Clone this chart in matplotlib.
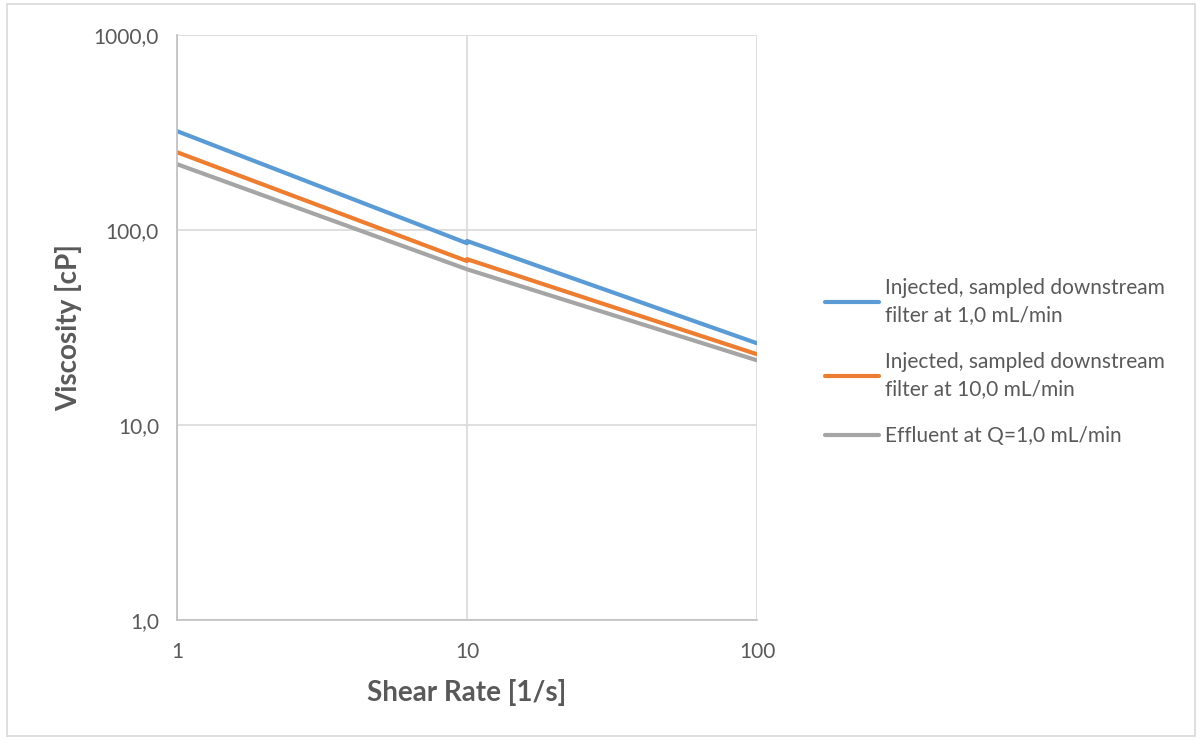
import matplotlib.pyplot as plt

plt.rcParams['font.family'] = ['Lato', 'DejaVu Sans']

# shear rate [1/s] (segments meet at 10)
shear = [1, 10, 10, 100]

visc_inj_1 = [322, 85.7, 88.0, 26.3]     # injected, downstream filter, 1,0 mL/min
visc_inj_10 = [251, 69.4, 71.0, 23.1]    # injected, downstream filter, 10,0 mL/min
visc_eff = [218, 63.0, 63.0, 21.5]       # effluent at Q=1,0 mL/min

labels = ['Injected, sampled downstream\nfilter at 1,0 mL/min',
          'Injected, sampled downstream\nfilter at 10,0 mL/min',
          'Effluent at Q=1,0 mL/min']
colors = ['#5b9bd5', '#ed7d31', '#a5a5a5']

xticks = [1, 10, 100]
xticklabels = ['1', '10', '100']
yticks = [1, 10, 100, 1000]
yticklabels = ['1,0', '10,0', '100,0', '1000,0']

txt = '#595959'
grid = '#d9d9d9'

fig = plt.figure(figsize=(12, 7.4), dpi=100)
# outer chart border
fig.patches.append(plt.Rectangle((0.006, 0.005), 0.99, 0.99, transform=fig.transFigure,
                                 fill=False, edgecolor='#d9d9d9', linewidth=1.2))
ax = fig.add_axes([0.1475, 0.162, 0.4833, 0.7905])

for y, lab, c in zip([visc_inj_1, visc_inj_10, visc_eff], labels, colors):
    ax.plot(shear, y, color=c, linewidth=3, label=lab, solid_capstyle='round')

ax.set_xscale('log')
ax.set_yscale('log')
ax.set_xlim(1, 100)
ax.set_ylim(1, 1000)
ax.set_xticks(xticks)
ax.set_xticklabels(xticklabels)
ax.set_yticks(yticks)
ax.set_yticklabels(yticklabels)
ax.minorticks_off()
ax.tick_params(length=0, labelsize=15, colors=txt, pad=13)
ax.tick_params(axis='x', pad=16)
ax.grid(True, color=grid, linewidth=1.2)
ax.set_axisbelow(True)
for s in ['top', 'right']:
    ax.spines[s].set_visible(False)
for s in ['left', 'bottom']:
    ax.spines[s].set_color('#bfbfbf')
    ax.spines[s].set_linewidth(1.2)

ax.set_xlabel('Shear Rate [1/s]', fontsize=20, fontweight='bold', color=txt, labelpad=12)
ax.set_ylabel('Viscosity [cP]', fontsize=20, fontweight='bold', color=txt, labelpad=8)

leg = fig.legend(loc='upper left', bbox_to_anchor=(0.672, 0.65), frameon=False,
                 fontsize=15, labelcolor=txt, handlelength=2.6, handletextpad=0.25,
                 labelspacing=1.3)
for t in leg.get_texts():
    t.set_linespacing(1.45)

fig.savefig('out.png', dpi=100)
